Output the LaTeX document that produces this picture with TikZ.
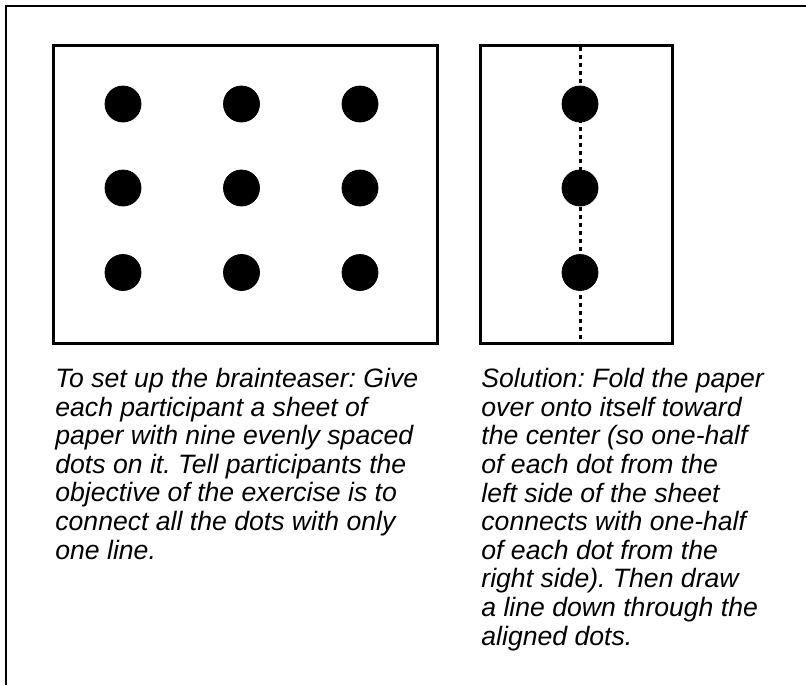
\documentclass[tikz,border=0pt]{standalone}
\usepackage{fontspec}
\setmainfont{Liberation Sans}
\frenchspacing
\tikzset{
  sheet/.style={line width=1.5pt},
  blackdot/.style={fill=black},
  foldline/.style={line width=1.5pt, dash pattern=on 1.75pt off 2.25pt},
  caption/.style={anchor=base west, inner sep=0pt, align=left,
    font=\fontsize{13.3}{14.3}\selectfont\itshape}
}
\begin{document}
\begin{tikzpicture}[x=0.5pt,y=-0.5pt]
		%%%%% START %%%%%
		\useasboundingbox (0,0) rectangle (806,685);
		
		\draw[line width=1pt] (806,5.5) -- (5.5,5.5) -- (5.5,685);
		
		% sheet with nine dots
		\draw[sheet] (53.5,45.5) rectangle (437.5,343.5);
		\draw[blackdot] (123,104) circle (9pt);
		\draw[blackdot] (241.5,104) circle (9pt);
		\draw[blackdot] (360,104) circle (9pt);
		\draw[blackdot] (123,188) circle (9pt);
		\draw[blackdot] (241.5,188) circle (9pt);
		\draw[blackdot] (360,188) circle (9pt);
		\draw[blackdot] (123,272.5) circle (9pt);
		\draw[blackdot] (241.5,272.5) circle (9pt);
		\draw[blackdot] (360,272.5) circle (9pt);
		
		% folded sheet
		\draw[sheet] (480,45.5) rectangle (672,343.5);
		\draw[foldline] (580,47) -- (580,342);
		\draw[blackdot] (580,104) circle (9pt);
		\draw[blackdot] (580,188) circle (9pt);
		\draw[blackdot] (580,272.5) circle (9pt);
		
		% captions (anchored on their last line)
		\node[caption] (setup) at (55,559) {To set up the brainteaser: Give\\each participant a sheet of\\paper with nine evenly spaced\\dots on it. Tell participants the\\objective of the exercise is to\\connect all the dots with only\\one line.};
		\node[caption] (solution) at (481,645) {Solution: Fold the paper\\over onto itself toward\\the center (so one-half\\of each dot from the\\left side of the sheet\\connects with one-half\\of each dot from the\\right side). Then draw\\a line down through the\\aligned dots.};
		
		%%%%% END %%%%%
\end{tikzpicture}
\end{document}
